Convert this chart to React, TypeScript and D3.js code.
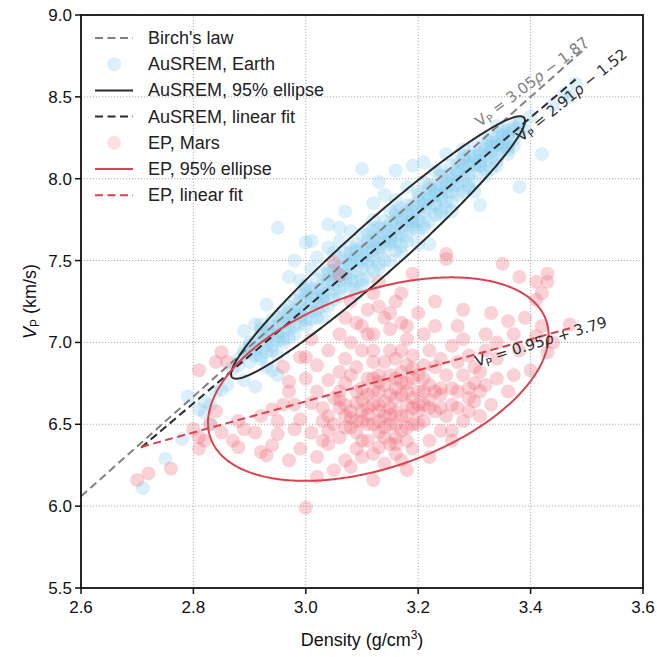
import React from 'react';
import * as d3 from 'd3';

const W = 657;
const H = 657;
const margin = { left: 81, right: 14, top: 15, bottom: 69 };

const xTicks = [2.6, 2.8, 3.0, 3.2, 3.4, 3.6];
const yTicks = [5.5, 6.0, 6.5, 7.0, 7.5, 8.0, 8.5, 9.0];

// AuSREM (Earth) density / Vp samples
const earthPts: [number, number][] = [
  [2.71, 6.11], [2.75, 6.29], [2.78, 6.41], [2.79, 6.67], [2.81, 6.59], [2.82, 6.57], [2.82, 6.64],
  [2.83, 6.62], [2.84, 6.70], [2.85, 6.71], [2.86, 6.74], [2.87, 6.84], [2.83, 6.50], [2.89, 6.77],
  [2.89, 7.07], [2.92, 7.11], [2.93, 7.23], [2.91, 6.73], [2.94, 6.83], [2.95, 6.80],
  [2.88, 6.90], [2.89, 6.95], [2.90, 6.88], [2.90, 7.00], [2.91, 6.96], [2.92, 7.05], [2.92, 6.92],
  [2.93, 7.02], [2.94, 7.10], [2.94, 6.98], [2.95, 7.06], [2.95, 7.15], [2.96, 7.12], [2.96, 7.02],
  [2.93, 6.85], [2.95, 6.92], [2.97, 7.22], [2.91, 7.11], [2.93, 7.08], [2.97, 7.08],
  [2.97, 7.15], [2.98, 7.20], [2.98, 7.10], [2.99, 7.25], [2.99, 7.16], [3.00, 7.30], [3.00, 7.20],
  [3.01, 7.24], [3.01, 7.33], [3.02, 7.28], [3.02, 7.38], [3.03, 7.30], [3.03, 7.22], [3.04, 7.36],
  [3.04, 7.42], [2.99, 7.38], [3.01, 7.45], [3.03, 7.15], [2.95, 7.70], [3.00, 7.61], [2.98, 7.50],
  [3.02, 7.52], [2.99, 7.30], [3.00, 7.14], [3.02, 7.20], [3.03, 7.42], [2.97, 7.40], [3.01, 7.62],
  [3.05, 7.40], [3.05, 7.32], [3.06, 7.45], [3.06, 7.38], [3.07, 7.50], [3.07, 7.42], [3.08, 7.48],
  [3.08, 7.55], [3.09, 7.52], [3.09, 7.44], [3.10, 7.58], [3.10, 7.50], [3.11, 7.55], [3.11, 7.62],
  [3.12, 7.60], [3.12, 7.52], [3.06, 7.62], [3.08, 7.68], [3.10, 8.06], [3.09, 7.30], [3.11, 7.40],
  [3.05, 7.55], [3.12, 7.75], [3.05, 7.47], [3.06, 7.52], [3.07, 7.35], [3.08, 7.38], [3.09, 7.60],
  [3.10, 7.66], [3.11, 7.48], [3.12, 7.68], [3.06, 7.70], [3.04, 7.58], [3.10, 7.35], [3.07, 7.80],
  [3.04, 7.72],
  [3.13, 7.62], [3.13, 7.70], [3.14, 7.66], [3.14, 7.58], [3.15, 7.72], [3.15, 7.64], [3.16, 7.70],
  [3.16, 7.78], [3.17, 7.74], [3.17, 7.66], [3.18, 7.80], [3.18, 7.72], [3.19, 7.76], [3.19, 7.84],
  [3.20, 7.82], [3.20, 7.74], [3.16, 7.87], [3.19, 8.08], [3.14, 7.90], [3.17, 7.55], [3.20, 7.60],
  [3.13, 7.55], [3.14, 7.74], [3.15, 7.80], [3.16, 7.62], [3.17, 7.82], [3.18, 7.65], [3.19, 7.70],
  [3.20, 7.90], [3.18, 7.95], [3.12, 7.85], [3.15, 7.50], [3.13, 7.45], [3.13, 7.98], [3.16, 8.05],
  [3.21, 7.86], [3.21, 7.80], [3.22, 7.90], [3.22, 7.82], [3.23, 7.92], [3.23, 7.85], [3.24, 7.96],
  [3.24, 7.88], [3.25, 7.95], [3.25, 8.02], [3.26, 8.00], [3.26, 7.92], [3.27, 8.05], [3.27, 7.98],
  [3.28, 8.06], [3.28, 7.99], [3.22, 7.60], [3.25, 8.15], [3.23, 8.05], [3.26, 7.80], [3.21, 7.98],
  [3.21, 7.72], [3.22, 7.96], [3.23, 7.78], [3.24, 8.02], [3.25, 7.86], [3.26, 8.08], [3.27, 7.90],
  [3.28, 8.12], [3.28, 8.18], [3.24, 7.78], [3.21, 8.10],
  [3.29, 8.10], [3.29, 8.02], [3.30, 8.12], [3.30, 8.05], [3.31, 8.15], [3.31, 8.08], [3.32, 8.18],
  [3.32, 8.10], [3.33, 8.20], [3.33, 8.13], [3.34, 8.22], [3.34, 8.15], [3.35, 8.26], [3.35, 8.18],
  [3.36, 8.28], [3.31, 7.84], [3.30, 7.92], [3.37, 8.32], [3.36, 8.20], [3.29, 7.95], [3.30, 8.20],
  [3.32, 8.02], [3.33, 8.26], [3.34, 8.08], [3.35, 8.30], [3.36, 8.15], [3.37, 8.24], [3.38, 8.28],
  [3.34, 8.32],
  [3.38, 7.95], [3.42, 8.15], [3.38, 8.34], [3.40, 8.38], [3.46, 8.52], [3.48, 8.58], [3.47, 8.50],
  [3.44, 8.45], [3.39, 8.30],
  // dense core of the band
  [2.88, 6.86], [2.89, 6.93], [2.90, 6.94], [2.90, 6.98], [2.91, 7.01], [2.91, 6.92], [2.92, 7.00],
  [2.92, 7.08], [2.93, 7.06], [2.93, 6.98], [2.94, 7.05], [2.94, 7.14], [2.95, 7.10], [2.95, 7.01],
  [2.96, 7.16], [2.96, 7.07], [2.97, 7.18], [2.97, 7.12], [2.98, 7.17], [2.98, 7.26], [2.99, 7.21],
  [2.99, 7.12], [3.00, 7.26], [3.00, 7.35], [3.01, 7.28], [3.01, 7.19], [3.02, 7.32], [3.02, 7.24],
  [3.03, 7.35], [3.03, 7.27], [3.04, 7.38], [3.04, 7.30], [3.05, 7.36], [3.05, 7.44], [3.06, 7.42],
  [3.06, 7.33], [3.07, 7.46], [3.07, 7.55], [3.08, 7.50], [3.08, 7.42], [3.09, 7.50], [3.09, 7.56],
  [3.10, 7.54], [3.10, 7.45], [3.11, 7.58], [3.11, 7.66], [3.12, 7.62], [3.12, 7.56], [3.13, 7.64],
  [3.13, 7.58], [3.14, 7.62], [3.14, 7.70], [3.15, 7.68], [3.15, 7.60], [3.16, 7.74], [3.16, 7.66],
  [3.17, 7.76], [3.17, 7.70], [3.18, 7.78], [3.18, 7.84], [3.19, 7.80], [3.19, 7.74], [3.20, 7.86],
  [3.20, 7.78], [3.21, 7.88], [3.21, 7.84], [3.22, 7.88], [3.22, 7.94], [3.23, 7.90], [3.23, 7.96],
  [3.24, 7.94], [3.24, 7.90], [3.25, 7.98], [3.25, 7.92], [3.26, 8.02], [3.26, 7.96], [3.27, 8.04],
  [3.27, 8.10], [3.28, 8.08], [3.28, 8.02], [3.29, 8.08], [3.29, 8.14], [3.30, 8.14], [3.30, 8.08],
  [3.31, 8.16], [3.31, 8.11], [3.32, 8.20], [3.32, 8.14], [3.33, 8.22], [3.33, 8.17], [3.34, 8.25],
  [3.34, 8.20], [3.35, 8.27], [3.35, 8.22], [3.36, 8.30], [3.36, 8.25], [3.37, 8.30], [3.38, 8.33],
  // lower half of the ellipse
  [2.92, 6.90], [2.94, 6.95], [2.96, 7.00], [2.98, 7.05], [3.00, 7.10], [3.02, 7.15], [3.04, 7.22],
  [3.06, 7.28], [3.08, 7.33], [3.10, 7.38], [3.12, 7.44], [3.14, 7.50], [3.16, 7.56], [3.18, 7.62],
  [3.20, 7.68], [3.22, 7.74], [3.24, 7.80], [3.26, 7.86], [3.28, 7.92], [3.30, 7.98], [3.32, 8.05],
  [3.34, 8.11], [3.36, 8.18], [2.93, 6.94], [2.97, 7.03], [3.01, 7.14], [3.05, 7.26], [3.09, 7.37],
  [3.13, 7.48], [3.17, 7.59], [3.21, 7.70], [3.25, 7.82], [3.29, 7.94], [3.33, 8.06], [3.37, 8.20],
  [2.95, 7.04], [2.99, 7.17], [3.03, 7.28], [3.07, 7.40], [3.11, 7.50], [3.15, 7.62], [3.19, 7.72],
  [3.23, 7.84], [3.27, 7.96], [3.31, 8.08], [3.35, 8.20],
  [2.96, 7.20], [3.00, 7.32], [3.04, 7.44], [3.08, 7.58], [3.12, 7.70], [3.16, 7.80], [3.20, 7.92],
  [3.24, 8.05], [3.28, 8.14], [3.32, 8.24],
];

// EP (Mars) density / Vp samples
const marsPts: [number, number][] = [
  [2.70, 6.16], [2.72, 6.20], [2.76, 6.23], [2.81, 6.35], [2.81, 6.42], [2.80, 6.47], [2.82, 6.40],
  [2.81, 6.83], [2.84, 6.88], [2.85, 6.94], [2.86, 6.88], [2.85, 6.45], [2.88, 6.36], [2.89, 6.47],
  [2.87, 6.40], [2.83, 6.50], [2.84, 6.58], [2.88, 6.52],
  [2.92, 6.33], [2.93, 6.31], [2.94, 6.37], [2.95, 6.44], [2.94, 6.59], [2.96, 6.85], [2.97, 6.28],
  [2.98, 6.47], [2.99, 6.53], [2.96, 6.62], [2.97, 6.70], [2.91, 6.45], [2.99, 6.91], [3.00, 6.78],
  [2.98, 6.62], [2.95, 6.52], [3.00, 5.99], [2.92, 6.55], [2.99, 6.35], [2.97, 6.76],
  [3.01, 7.02], [3.00, 6.91], [3.02, 6.70], [3.03, 6.60], [3.01, 6.45], [3.04, 6.38], [3.02, 6.30],
  [3.03, 6.52], [3.04, 6.77], [3.05, 7.49], [3.02, 6.86], [3.04, 6.95], [3.01, 6.63], [3.03, 6.40],
  [3.05, 6.22], [3.04, 6.55], [3.02, 6.18], [3.05, 6.66],
  [3.06, 7.41], [3.07, 7.15], [3.08, 7.25], [3.06, 7.05], [3.07, 6.90], [3.08, 6.80], [3.06, 6.70],
  [3.09, 6.63], [3.07, 6.55], [3.08, 6.48], [3.06, 6.42], [3.09, 6.35], [3.07, 6.28], [3.08, 6.24],
  [3.10, 6.40], [3.09, 6.52], [3.06, 6.60], [3.10, 6.72], [3.09, 6.85], [3.08, 7.00], [3.10, 7.10],
  [3.07, 6.75], [3.10, 6.58], [3.09, 6.45], [3.06, 6.82],
  [3.11, 7.20], [3.12, 7.30], [3.13, 7.37], [3.11, 7.05], [3.12, 6.95], [3.14, 6.88], [3.11, 6.78],
  [3.13, 6.70], [3.12, 6.62], [3.14, 6.55], [3.11, 6.50], [3.13, 6.45], [3.15, 6.38], [3.12, 6.32],
  [3.14, 6.26], [3.11, 6.60], [3.13, 6.80], [3.15, 6.68], [3.12, 6.88], [3.14, 7.15], [3.15, 7.08],
  [3.13, 6.58], [3.11, 6.40], [3.15, 6.50], [3.14, 6.74], [3.12, 6.16], [3.15, 6.95],
  [3.16, 7.25], [3.17, 7.12], [3.18, 7.02], [3.19, 7.42], [3.16, 6.90], [3.17, 6.82], [3.18, 6.75],
  [3.16, 6.66], [3.19, 6.60], [3.17, 6.55], [3.18, 6.48], [3.16, 6.42], [3.19, 6.35], [3.17, 6.28],
  [3.20, 6.70], [3.18, 6.86], [3.19, 6.78], [3.16, 6.58], [3.20, 6.50], [3.17, 6.95], [3.19, 6.92],
  [3.18, 6.62], [3.20, 7.18], [3.16, 6.32], [3.18, 6.22],
  [3.21, 7.05], [3.22, 6.95], [3.23, 6.85], [3.21, 6.78], [3.24, 6.72], [3.22, 6.65], [3.23, 6.58],
  [3.21, 6.52], [3.24, 6.46], [3.22, 6.40], [3.25, 7.51], [3.25, 7.54], [3.23, 7.10], [3.24, 6.90],
  [3.21, 6.62], [3.25, 6.80], [3.22, 6.30], [3.24, 6.60], [3.23, 7.25], [3.25, 6.55],
  [3.26, 6.98], [3.27, 6.88], [3.28, 6.80], [3.26, 6.72], [3.29, 6.66], [3.27, 6.60], [3.28, 6.52],
  [3.26, 6.46], [3.29, 6.92], [3.30, 6.75], [3.27, 7.10], [3.28, 7.20], [3.29, 6.58], [3.30, 6.85],
  [3.26, 6.40], [3.28, 7.02],
  [3.31, 6.82], [3.31, 6.70], [3.32, 6.95], [3.33, 6.62], [3.34, 6.78], [3.32, 7.05], [3.33, 7.18],
  [3.34, 6.90], [3.35, 7.48], [3.31, 6.55], [3.34, 7.00],
  [3.36, 7.13], [3.37, 7.05], [3.36, 6.70], [3.38, 7.40], [3.40, 6.83], [3.41, 7.26], [3.42, 7.30],
  [3.41, 7.04], [3.43, 6.94], [3.41, 7.37], [3.43, 7.42], [3.47, 7.11], [3.38, 6.95], [3.39, 7.15],
  [3.42, 7.10], [3.44, 7.00], [3.37, 6.80], [3.43, 7.37],
  // dense core
  [3.06, 6.65], [3.07, 6.62], [3.08, 6.58], [3.09, 6.70], [3.10, 6.65], [3.11, 6.68], [3.12, 6.70],
  [3.13, 6.62], [3.14, 6.64], [3.15, 6.60], [3.16, 6.72], [3.17, 6.68], [3.18, 6.70], [3.19, 6.66],
  [3.20, 6.62], [3.21, 6.70], [3.22, 6.74], [3.23, 6.70], [3.12, 6.50], [3.13, 6.52], [3.14, 6.48],
  [3.15, 6.56], [3.16, 6.50], [3.17, 6.46], [3.18, 6.55], [3.19, 6.50], [3.20, 6.58], [3.10, 6.52],
  [3.11, 6.56], [3.08, 6.54], [3.12, 6.78], [3.13, 6.76], [3.15, 6.80], [3.16, 6.78], [3.17, 6.76],
  [3.19, 6.84], [3.21, 6.86], [3.14, 6.42], [3.16, 6.38], [3.18, 6.40], [3.13, 6.36], [3.10, 6.30],
  [3.07, 6.48], [3.05, 6.50], [3.04, 6.46], [3.20, 6.80], [3.22, 6.60], [3.24, 6.68], [3.26, 6.62],
  [3.27, 6.70], [3.29, 6.72], [3.30, 6.64], [3.32, 6.74], [3.10, 6.95], [3.12, 7.05], [3.09, 7.12],
  [3.13, 7.22], [3.15, 7.18], [3.17, 7.30], [3.18, 7.10],
];

// Vp = a * rho + b, drawn between x0 and x1
const birchFit = { a: 3.05, b: -1.87, x0: 2.6, x1: 3.5 };
const earthFit = { a: 2.91, b: -1.52, x0: 2.707, x1: 3.48 };
const marsFit = { a: 0.95, b: 3.79, x0: 2.707, x1: 3.47 };

// 95% ellipses: centre, half-extents and correlation
const earthEllipse = { mx: 3.1285, my: 7.58, ax: 0.2615, ay: 0.8015, r: 0.9657 };
const marsEllipse = { mx: 3.129, my: 6.776, ax: 0.303, ay: 0.6215, r: 0.43 };

const legendLabels = [
  "Birch's law",
  'AuSREM, Earth',
  'AuSREM, 95% ellipse',
  'AuSREM, linear fit',
  'EP, Mars',
  'EP, 95% ellipse',
  'EP, linear fit',
];

const BLUE = '#88CCEE';
const PINK = '#EE6677';
const RED = '#D9434B';
const DARK = '#2b2b2b';
const GRAY = '#808080';
const DASH = '8,4.5';
const FONT = '"Liberation Sans", Arial, sans-serif';
const MATH = '"DejaVu Sans", sans-serif';

export default function App() {
  const x = d3.scaleLinear().domain([2.6, 3.6]).range([margin.left, W - margin.right]);
  const y = d3.scaleLinear().domain([5.5, 9.0]).range([H - margin.bottom, margin.top]);
  const [x0, x1] = x.range();
  const [y0, y1] = y.range();

  const fitPath = (f: { a: number; b: number; x0: number; x1: number }) =>
    d3.line<number>().x((d) => x(d)).y((d) => y(f.a * d + f.b))([f.x0, f.x1]) || '';

  const ellipsePath = (e: { mx: number; my: number; ax: number; ay: number; r: number }) => {
    const s = Math.sqrt(1 - e.r * e.r);
    const ts = d3.range(0, Math.PI * 2, Math.PI / 180);
    return (
      d3
        .line<number>()
        .x((t) => x(e.mx + e.ax * Math.cos(t)))
        .y((t) => y(e.my + e.ay * (e.r * Math.cos(t) + s * Math.sin(t))))
        .curve(d3.curveLinearClosed)(ts) || ''
    );
  };

  const legendY = (i: number) => 38 + i * 26.2;
  const lx0 = 95;
  const lx1 = 133;

  const eqLabel = (
    key: string,
    px: number,
    py: number,
    angle: number,
    color: string,
    slope: string,
    sign: string,
    icpt: string
  ) => (
    <text
      key={key}
      transform={`translate(${x(px)},${y(py)}) rotate(${angle})`}
      fontFamily={MATH}
      fontSize={15}
      fill={color}
    >
      V
      <tspan fontSize={10.5} dy={3}>P</tspan>
      <tspan dy={-3}>{` = ${slope}`}</tspan>
      <tspan fontStyle="italic">ρ</tspan>
      <tspan>{` ${sign} ${icpt}`}</tspan>
    </text>
  );

  return (
    <svg width={W} height={H} style={{ position: 'absolute', left: 0, top: 0, background: '#fff' }}>
      {/* grid */}
      <g stroke="#9a9a9a" strokeWidth={0.8} strokeDasharray="1.2,1.8">
        {xTicks.map((t) => (
          <line key={'gx' + t} x1={x(t)} x2={x(t)} y1={y0} y2={y1} />
        ))}
        {yTicks.map((t) => (
          <line key={'gy' + t} x1={x0} x2={x1} y1={y(t)} y2={y(t)} />
        ))}
      </g>

      {/* Earth */}
      <g fill={BLUE} fillOpacity={0.3}>
        {earthPts.map((d, i) => (
          <circle key={'e' + i} cx={x(d[0])} cy={y(d[1])} r={7} />
        ))}
      </g>

      {/* Mars */}
      <g fill={PINK} fillOpacity={0.3}>
        {marsPts.map((d, i) => (
          <circle key={'m' + i} cx={x(d[0])} cy={y(d[1])} r={7} />
        ))}
      </g>

      <path d={fitPath(birchFit)} stroke={GRAY} strokeWidth={2} strokeDasharray={DASH} fill="none" />
      <path d={ellipsePath(earthEllipse)} stroke={DARK} strokeWidth={2} fill="none" />
      <path d={fitPath(earthFit)} stroke={DARK} strokeWidth={2} strokeDasharray={DASH} fill="none" />
      <path d={ellipsePath(marsEllipse)} stroke={RED} strokeWidth={2} fill="none" />
      <path d={fitPath(marsFit)} stroke={RED} strokeWidth={2} strokeDasharray={DASH} fill="none" />

      {eqLabel('birch', 3.31, 8.315, -37, GRAY, '3.05', '−', '1.87')}
      {eqLabel('earth', 3.384, 8.223, -39, DARK, '2.91', '−', '1.52')}
      {eqLabel('mars', 3.304, 6.852, -17, DARK, '0.95', '+', '3.79')}

      {/* frame */}
      <rect x={x0} y={y1} width={x1 - x0} height={y0 - y1} fill="none" stroke="#111" strokeWidth={1.8} />

      {/* ticks */}
      <g stroke="#111" strokeWidth={1.5}>
        {xTicks.map((t) => (
          <line key={'tx' + t} x1={x(t)} x2={x(t)} y1={y0} y2={y0 + 6} />
        ))}
        {yTicks.map((t) => (
          <line key={'ty' + t} x1={x0 - 6} x2={x0} y1={y(t)} y2={y(t)} />
        ))}
      </g>
      <g fontFamily={FONT} fontSize={17} fill="#111">
        {xTicks.map((t) => (
          <text key={'lx' + t} x={x(t)} y={y0 + 25} textAnchor="middle">
            {d3.format('.1f')(t)}
          </text>
        ))}
        {yTicks.map((t) => (
          <text key={'ly' + t} x={x0 - 9} y={y(t) + 6} textAnchor="end">
            {d3.format('.1f')(t)}
          </text>
        ))}
      </g>

      {/* axis labels */}
      <text x={(x0 + x1) / 2} y={646} textAnchor="middle" fontFamily={FONT} fontSize={18} fill="#111">
        Density (g/cm<tspan fontSize={12} dy={-7}>3</tspan>
        <tspan dy={7}>)</tspan>
      </text>
      <text
        transform={`translate(36,${(y0 + y1) / 2}) rotate(-90)`}
        textAnchor="middle"
        fontFamily={FONT}
        fontSize={18}
        fill="#111"
      >
        <tspan fontStyle="italic">V</tspan>
        <tspan fontSize={12} dy={3}>P</tspan>
        <tspan dy={-3}> (km/s)</tspan>
      </text>

      {/* legend */}
      <g fontFamily={FONT} fontSize={18} fill="#222">
        {legendLabels.map((lab, i) => {
          const ly = legendY(i);
          let sym: React.ReactNode = null;
          if (i === 0) sym = <line x1={lx0} x2={lx1} y1={ly} y2={ly} stroke={GRAY} strokeWidth={2} strokeDasharray={DASH} />;
          if (i === 1) sym = <circle cx={(lx0 + lx1) / 2} cy={ly} r={7} fill={BLUE} fillOpacity={0.3} />;
          if (i === 2) sym = <line x1={lx0} x2={lx1} y1={ly} y2={ly} stroke={DARK} strokeWidth={2} />;
          if (i === 3) sym = <line x1={lx0} x2={lx1} y1={ly} y2={ly} stroke={DARK} strokeWidth={2} strokeDasharray={DASH} />;
          if (i === 4) sym = <circle cx={(lx0 + lx1) / 2} cy={ly} r={7} fill={PINK} fillOpacity={0.2} />;
          if (i === 5) sym = <line x1={lx0} x2={lx1} y1={ly} y2={ly} stroke={RED} strokeWidth={2} />;
          if (i === 6) sym = <line x1={lx0} x2={lx1} y1={ly} y2={ly} stroke={RED} strokeWidth={2} strokeDasharray={DASH} />;
          return (
            <g key={'lg' + i}>
              {sym}
              <text x={148} y={ly + 6}>
                {lab}
              </text>
            </g>
          );
        })}
      </g>
    </svg>
  );
}
